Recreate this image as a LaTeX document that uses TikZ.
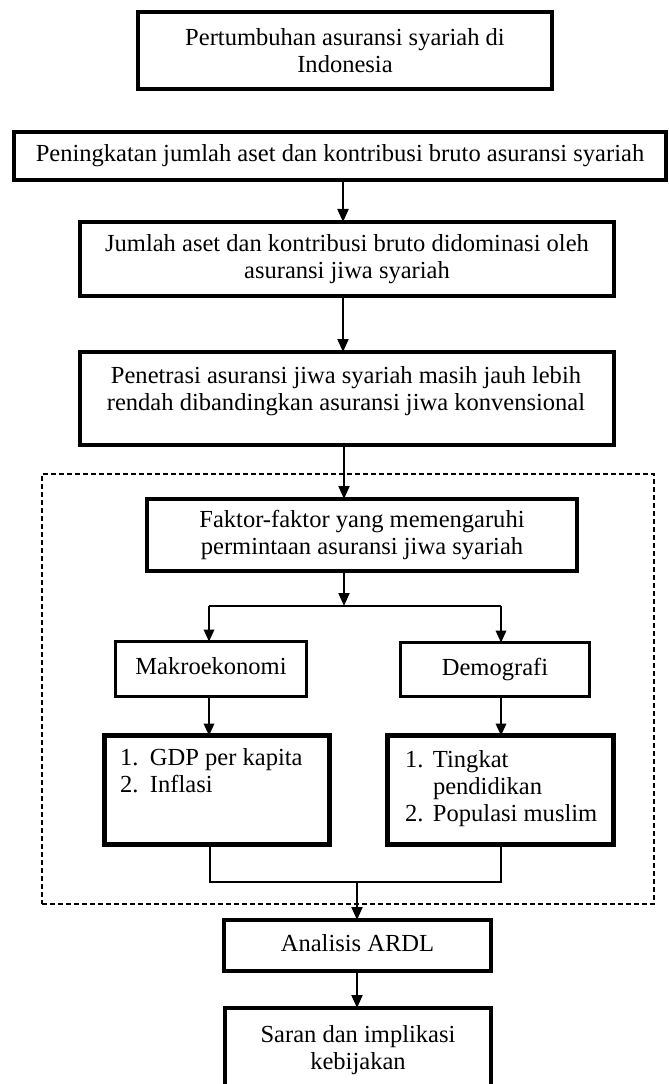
\documentclass[tikz,border=0pt]{standalone}
\usepackage{fontspec}
\setmainfont{Liberation Serif}
\usetikzlibrary{arrows.meta}
\newcommand\placebox[7]{\node[#6, minimum width={(#4-#2)*0.75pt}, minimum height={(#5-#3)*0.75pt}, align=center] (#1) at ({(#2+#4)/2},{(#3+#5)/2}) {#7};}
\begin{document}
\begin{tikzpicture}[x=0.75pt,y=-0.75pt,
  font=\fontsize{18.4pt}{20.6pt}\selectfont,
  every node/.style={inner sep=0pt, outer sep=0pt},
  box/.style={draw, line width=3pt, rectangle},
  oneline/.style={text height=12.5pt, text depth=4pt},
  midbox/.style={draw, line width=2.5pt, rectangle, oneline},
  listbox/.style={draw, line width=3.75pt, rectangle},
  arr/.style={line width=1.5pt, -{Triangle[length=9.75pt,width=8.25pt]}},
  thinarr/.style={line width=1.1pt, -{Triangle[length=9pt,width=8pt]}},
  link/.style={line width=1.1pt},
  frame/.style={draw, line width=1.1pt, dash pattern=on 3.75pt off 2.25pt}
]
\useasboundingbox (0,0) rectangle (668,1084);
\fill[white] (0,0) rectangle (668,1084);
\clip (0,0) rectangle (668,1084);

% boxes
\placebox{b1}{138}{12}{552}{89}{box}{Pertumbuhan asuransi syariah di\\Indonesia}
\placebox{b2}{14}{132}{666}{180}{box, oneline}{Peningkatan jumlah aset dan kontribusi bruto asuransi syariah}
\placebox{b3}{80}{222}{614}{296}{box}{Jumlah aset dan kontribusi bruto didominasi oleh\\asuransi jiwa syariah}
\placebox{b4}{80}{352}{614}{445}{box}{}
\node[anchor=north, align=center] (b4t) at (346,366) {Penetrasi asuransi jiwa syariah masih jauh lebih\\rendah dibandingkan asuransi jiwa konvensional};

\node[frame, minimum width={612*0.75pt}, minimum height={430*0.75pt}] (frm) at (348,689) {};

\placebox{fak}{147}{499}{577}{571}{box}{Faktor-faktor yang memengaruhi\\permintaan asuransi jiwa syariah}
\placebox{mak}{115.5}{641.5}{306.5}{696.5}{midbox}{Makroekonomi}
\placebox{dem}{400.5}{642.5}{589.5}{696.5}{midbox}{Demografi}

\placebox{gdp}{104.5}{735.5}{329.5}{844.5}{listbox}{}
\node[anchor=north west, align=left] (gdpt) at (120,748) {\makebox[22.5pt][l]{1.}GDP per kapita\\\makebox[22.5pt][l]{2.}Inflasi};
\placebox{tin}{387.5}{735.5}{613.5}{844.5}{listbox}{}
\node[anchor=north west, align=left] (tint) at (405,750) {\makebox[21pt][l]{1.}Tingkat\\\hspace*{21pt}pendidikan\\\makebox[21pt][l]{2.}Populasi muslim};

\placebox{ardl}{224}{920}{491}{971}{box, oneline}{Analisis ARDL}
\placebox{sar}{225}{1008}{491}{1092}{box}{Saran dan implikasi\\kebijakan}

% routing points
\coordinate (ax) at (343,0);
\coordinate (ax2) at (344,0);
\coordinate (br) at (344,606);
\coordinate (lx) at (209,606);
\coordinate (rx) at (501,606);
\coordinate (jl) at (210,882);
\coordinate (jr) at (501,882);
\coordinate (jn) at (357,882);

% connectors
\draw[arr] (b2.south -| ax) -- (b3.north -| ax);
\draw[arr] (b3.south -| ax) -- (b4.north -| ax);
\draw[arr] (b4.south -| ax2) -- (fak.north -| ax2);
\draw[arr] (fak.south -| br) -- (br);
\draw[link] (lx) -- (rx);
\draw[thinarr] (lx) -- (mak.north -| lx);
\draw[thinarr] (rx) -- (dem.north -| rx);
\draw[thinarr] (mak.south -| lx) -- (gdp.north -| lx);
\draw[thinarr] (dem.south -| rx) -- (tin.north -| rx);
\draw[link] (gdp.south -| jl) -- (jl) -- (jr) -- (tin.south -| jr);
\draw[arr] (jn) -- (ardl.north -| jn);
\draw[arr] (ardl.south -| jn) -- (sar.north -| jn);
\end{tikzpicture}
\end{document}
